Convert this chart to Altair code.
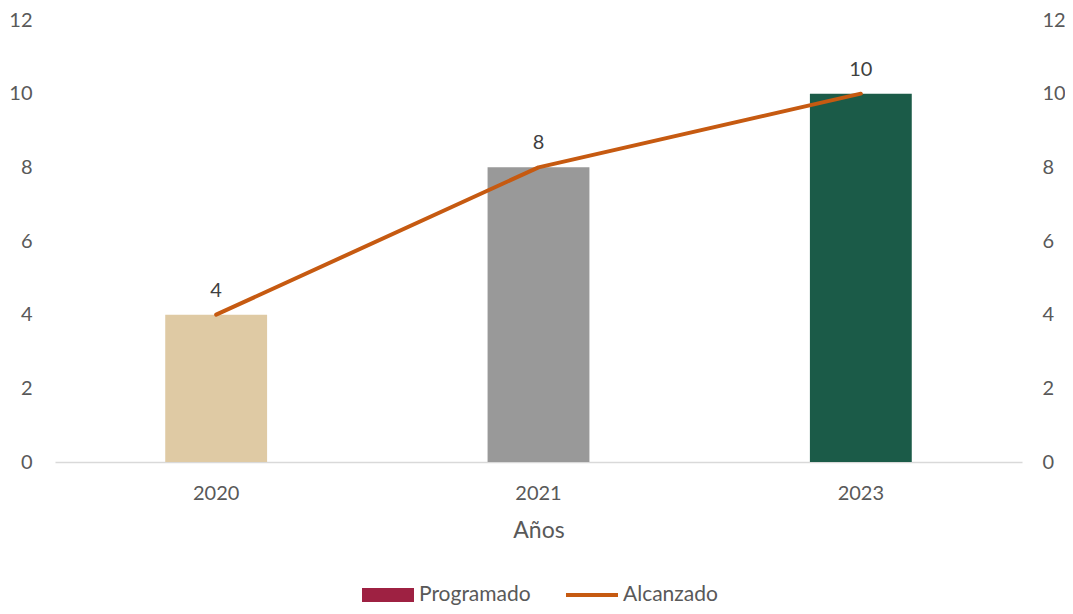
import altair as alt
import pandas as pd

years = ["2020", "2021", "2023"]
values = [4, 8, 10]
bar_colors = ["#DFCAA4", "#999999", "#1B5B48"]
legend_names = ["Programado", "Alcanzado"]
legend_colors = ["#9E2142", "#C65A11"]

df = pd.DataFrame({"year": years, "value": values, "color": bar_colors})
leg_df = pd.DataFrame({"serie": legend_names})

FONT = "Lato"
GREY = "#595959"

x_enc = alt.X("year:N", sort=years, title="Años",
              scale=alt.Scale(paddingInner=0.684, paddingOuter=0.342),
              axis=alt.Axis(labelAngle=0, labelFontSize=20, labelColor=GREY, labelFont=FONT,
                            labelPadding=21, ticks=False, domainColor="#D9D9D9", domainWidth=1.5,
                            titleFontSize=23, titleColor=GREY, titleFont=FONT, titleFontWeight="normal",
                            titlePadding=16))

yscale = alt.Scale(domain=[0, 12], nice=False)

bars = alt.Chart(df).mark_bar().encode(
    x=x_enc,
    y=alt.Y("value:Q", scale=yscale, title=None,
            axis=alt.Axis(values=[0, 2, 4, 6, 8, 10, 12], grid=False, domain=False, ticks=False,
                          labelFontSize=20, labelColor=GREY, labelFont=FONT, labelPadding=23)),
    color=alt.Color("color:N", scale=None),
)

labels = alt.Chart(df).mark_text(baseline="alphabetic", dy=-18, fontSize=20, font=FONT, color="#404040").encode(
    x=alt.X("year:N", sort=years),
    y=alt.Y("value:Q", scale=yscale),
    text=alt.Text("value:Q"),
)

line = alt.Chart(df).mark_line(color="#C65A11", strokeWidth=4, strokeCap="round", strokeJoin="round").encode(
    x=alt.X("year:N", sort=years),
    y=alt.Y("value:Q", scale=yscale, title=None,
            axis=alt.Axis(orient="right", values=[0, 2, 4, 6, 8, 10, 12], grid=False, domain=False, ticks=False,
                          labelFontSize=20, labelColor=GREY, labelFont=FONT, labelPadding=20)),
)

legend_layer = alt.Chart(leg_df).mark_point(filled=True, opacity=1).encode(
    x=alt.X("serie:N"),
    color=alt.Color("serie:N", title=None,
                    scale=alt.Scale(domain=legend_names, range=legend_colors),
                    legend=alt.Legend(orient="none", direction="horizontal", legendX=307, legendY=549,
                                      symbolSize=2704, symbolStrokeWidth=0, labelFontSize=21,
                                      labelColor=GREY, labelFont=FONT, labelOffset=5,
                                      columnPadding=35, symbolOpacity=1)),
    shape=alt.Shape("serie:N", legend=None,
                    scale=alt.Scale(domain=legend_names,
                                    range=["M-1,-0.27L1,-0.27L1,0.27L-1,0.27Z",
                                           "M-1,-0.08L1,-0.08L1,0.08L-1,0.08Z"])),
).transform_filter("false")

left = alt.layer(bars, labels, legend_layer)
chart = alt.layer(left, line).resolve_scale(y="independent").properties(
    width=967, height=442,
    autosize=alt.AutoSizeParams(type="none"),
    padding={"left": 47, "top": 12, "right": 43, "bottom": 144},
).configure_view(stroke=None).configure_legend(symbolType="square")

chart.save("out.html", embed_options={"renderer": "svg", "actions": False})
